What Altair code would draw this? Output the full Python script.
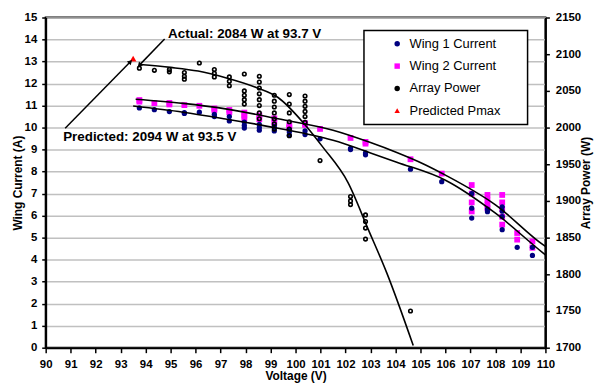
import altair as alt
import pandas as pd

# ---------------- data ----------------
# Wing 1 current (A)
w1_v = [93.75, 94.35, 94.95, 95.55, 95.55, 96.15, 96.75, 96.75, 97.35, 97.35,
        97.95, 97.95, 97.95, 98.55, 98.55, 98.55, 99.15, 99.15, 99.75, 99.75,
        99.75, 100.38, 100.38, 100.98, 102.2, 102.2, 102.8, 102.8, 104.6, 105.85,
        107.05, 107.05, 107.05, 107.68, 107.68, 108.27, 108.27, 108.27, 108.27, 108.87,
        109.48, 109.48]
w1_i = [10.89, 10.81, 10.73, 10.64, 10.68, 10.70, 10.50, 10.60, 10.30, 10.50,
        9.98, 10.10, 10.25, 9.88, 10.00, 10.15, 9.85, 10.05, 9.65, 9.80,
        9.92, 9.68, 9.85, 9.49, 9.00, 9.05, 8.76, 8.85, 8.11, 7.54,
        5.89, 6.34, 7.00, 6.18, 6.30, 5.36, 5.96, 6.20, 6.40, 4.56,
        4.19, 4.56]

# Wing 2 current (A)
w2_v = [93.75, 93.75, 94.35, 94.95, 94.95, 95.55, 96.15, 96.75, 96.75, 97.35,
        97.35, 97.95, 97.95, 97.95, 98.55, 98.55, 99.15, 99.15, 99.75, 99.75,
        100.38, 100.38, 100.98, 102.2, 102.8, 102.8, 104.6, 105.85, 107.05, 107.05,
        107.05, 107.05, 107.68, 107.68, 107.68, 107.68, 108.27, 108.27, 108.27, 108.27,
        108.27, 108.87, 108.87, 109.48, 109.48]
w2_i = [11.18, 11.25, 11.11, 11.05, 11.12, 11.02, 10.99, 10.80, 10.87, 10.70,
        10.80, 10.42, 10.55, 10.68, 10.38, 10.55, 10.22, 10.42, 10.00, 10.10,
        10.12, 10.20, 9.94, 9.53, 9.27, 9.35, 8.56, 7.91, 6.19, 6.60,
        7.00, 7.39, 6.34, 6.50, 6.70, 6.94, 5.59, 5.95, 6.30, 6.60,
        6.94, 4.91, 5.21, 4.54, 4.83]

# Array power (W)
p_v = [93.75, 94.35, 94.95, 94.95, 95.55, 95.55, 95.55, 96.15, 96.75, 96.75,
       96.75, 97.35, 97.35, 97.35, 97.95, 97.95, 97.95, 97.95, 97.95,
       98.55, 98.55, 98.55, 98.55, 98.55, 98.55, 98.55, 98.55,
       99.15, 99.15, 99.15, 99.15, 99.15, 99.15, 99.15,
       99.75, 99.75, 99.75, 99.75, 99.75, 99.75,
       100.38, 100.38, 100.38, 100.38, 100.38, 100.38,
       100.98, 102.2, 102.2, 102.2, 102.8, 102.8, 102.8, 102.8, 104.6]
p_w = [2081, 2078, 2079, 2076, 2075, 2070, 2066, 2088, 2079, 2074,
       2069, 2069, 2063, 2057, 2073, 2050, 2044, 2038, 2032,
       2070, 2062, 2054, 2046, 2038, 2030, 2020, 2012,
       2044, 2036, 2028, 2020, 2012, 2005, 1998,
       2045, 2032, 2020, 2008, 1998, 1989,
       2043, 2036, 2029, 2022, 2015, 2007,
       1955, 1906, 1900, 1895, 1881, 1872, 1863, 1848, 1750]

# Fitted curves
c1_v = [93.5, 95.5, 97.2, 99.3, 101.5, 103.0, 104.05, 106.0, 108.0, 109.9, 110.0]
c1_i = [10.98, 10.70, 10.39, 9.97, 9.42, 8.85, 8.43, 7.61, 6.11, 4.31, 4.22]
c2_v = [93.6, 95.5, 97.2, 99.3, 101.5, 103.0, 104.05, 105.1, 106.0, 108.0, 109.9, 110.0]
c2_i = [11.29, 11.10, 10.85, 10.40, 9.88, 9.32, 8.87, 8.36, 7.84, 6.49, 4.68, 4.60]
cp_v = [93.77, 95.0, 96.1, 97.2, 98.4, 99.3, 100.3, 101.1, 102.1, 102.9, 103.65, 104.71]
cp_w = [2086, 2082, 2077, 2068, 2055, 2041, 2007, 1973, 1925, 1862, 1802, 1703]

# Predicted maximum
pmax_v = [93.5]
pmax_w = [2094]

series_names = ["Wing 1 Current", "Wing 2 Current", "Array Power", "Predicted Pmax"]
series_colors = ["#000080", "#FF00FF", "#000000", "#FF0000"]
series_shapes = ["circle", "square", "circle", "triangle-up"]

# Annotations (text, arrow start, arrow end, in V / W)
ann_text = ["Actual: 2084 W at 93.7 V", "Predicted: 2094 W at 93.5 V"]
ann_tx = [94.9, 90.7]
ann_ty = [2127, 1987]
arr_x1 = [94.76, 90.78]
arr_y1 = [2120.6, 1999]
arr_x2 = [93.77, 93.37]
arr_y2 = [2085.8, 2089]
arr_angle = [224, 45]

# ---------------- chart ----------------
FONT = "Liberation Sans"

df_w1 = pd.DataFrame({"V": w1_v, "I": w1_i, "series": "Wing 1 Current"})
df_w2 = pd.DataFrame({"V": w2_v, "I": w2_i, "series": "Wing 2 Current"})
df_p = pd.DataFrame({"V": p_v, "P": p_w, "series": "Array Power"})
df_pmax = pd.DataFrame({"V": pmax_v, "P": pmax_w, "series": "Predicted Pmax"})
df_c = pd.concat([
    pd.DataFrame({"V": c1_v, "I": c1_i, "curve": "w1"}),
    pd.DataFrame({"V": c2_v, "I": c2_i, "curve": "w2"}),
])
df_cp = pd.DataFrame({"V": cp_v, "P": cp_w})
df_ann = pd.DataFrame({"text": ann_text, "tx": ann_tx, "ty": ann_ty,
                       "x1": arr_x1, "y1": arr_y1, "x2": arr_x2, "y2": arr_y2,
                       "angle": arr_angle})

xscale = alt.Scale(domain=[90, 110], nice=False, zero=False)
xaxis = alt.Axis(values=list(range(90, 111)), title="Voltage (V)", grid=False,
                 labelOverlap=False, labelFlush=False, format="d",
                 labelFont=FONT, labelFontSize=11.5, labelFontWeight="bold",
                 titleFont=FONT, titleFontSize=12, titleFontWeight="bold",
                 labelColor="black", titleColor="black",
                 domainColor="black", domainWidth=2, tickColor="black",
                 tickWidth=1.5, tickSize=5, labelPadding=6, titlePadding=1)

iscale = alt.Scale(domain=[0, 15], nice=False, zero=True)
iaxis = alt.Axis(values=list(range(0, 16)), title="Wing Current (A)", grid=True,
                 gridColor="#c0c0c0", gridWidth=1.5, labelOverlap=False, labelFlush=False,
                 format="d",
                 labelFont=FONT, labelFontSize=11.5, labelFontWeight="bold",
                 titleFont=FONT, titleFontSize=12, titleFontWeight="bold",
                 labelColor="black", titleColor="black",
                 domainColor="black", domainWidth=2, tickColor="black",
                 tickWidth=1.5, tickSize=4, labelPadding=5, titlePadding=0)

pscale = alt.Scale(domain=[1700, 2150], nice=False, zero=False)
paxis = alt.Axis(orient="right", values=list(range(1700, 2151, 50)), title="Array Power (W)",
                 grid=False, titleAngle=270, titleBaseline="top", format="d",
                 labelOverlap=False, labelFlush=False,
                 labelFont=FONT, labelFontSize=11.5, labelFontWeight="bold",
                 titleFont=FONT, titleFontSize=12, titleFontWeight="bold",
                 labelColor="black", titleColor="black",
                 domainColor="black", domainWidth=2, tickColor="black",
                 tickWidth=1.5, tickSize=4, labelPadding=6, titlePadding=0)

legend = alt.Legend(title=None, orient="none", legendX=321, legendY=13,
                    padding=7, symbolOffset=20, rowPadding=8.5, labelOffset=6,
                    labelFont=FONT, labelFontSize=13, labelColor="black",
                    strokeColor="black", fillColor="white", symbolSize=30,
                    symbolStrokeWidth=0,
                    labelExpr="datum.label + '" + "\u2800" * 2 + "'")

color_enc = alt.Color("series:N", scale=alt.Scale(domain=series_names, range=series_colors),
                      legend=legend)
shape_enc = alt.Shape("series:N", scale=alt.Scale(domain=series_names, range=series_shapes),
                      legend=legend)

X = alt.X("V:Q", scale=xscale, axis=xaxis)
YI = alt.Y("I:Q", scale=iscale, axis=iaxis)
YP = alt.Y("P:Q", scale=pscale, axis=paxis)

curves = alt.Chart(df_c).mark_line(color="black", strokeWidth=1.6, interpolate="monotone").encode(
    x=X, y=YI, detail="curve:N")
w1 = alt.Chart(df_w1).mark_point(filled=True, size=28, opacity=1).encode(
    x=X, y=YI, color=color_enc, shape=shape_enc)
w2 = alt.Chart(df_w2).mark_point(filled=True, size=34, opacity=1).encode(
    x=X, y=YI, color=color_enc, shape=shape_enc)
current_layer = alt.layer(w2, w1, curves)

pcurve = alt.Chart(df_cp).mark_line(color="black", strokeWidth=1.6, interpolate="monotone").encode(
    x=X, y=YP)
ppts = alt.Chart(df_p).mark_point(filled=False, size=13, strokeWidth=1.6, opacity=1).encode(
    x=X, y=YP, color=color_enc, shape=shape_enc)
pmax = alt.Chart(df_pmax).mark_point(filled=True, size=45, opacity=1).encode(
    x=X, y=YP, color=color_enc, shape=shape_enc)
arrows = alt.Chart(df_ann).mark_rule(color="black", strokeWidth=1.5).encode(
    x=alt.X("x1:Q", scale=xscale, axis=xaxis), y=alt.Y("y1:Q", scale=pscale, axis=paxis),
    x2="x2:Q", y2="y2:Q")
heads = alt.Chart(df_ann).mark_point(shape="triangle", filled=True, color="black", size=30,
                                     opacity=1).encode(
    x=alt.X("x2:Q", scale=xscale, axis=xaxis), y=alt.Y("y2:Q", scale=pscale, axis=paxis),
    angle=alt.Angle("angle:Q", scale=None))
texts = alt.Chart(df_ann).mark_text(align="left", baseline="middle", font=FONT, fontSize=13.5,
                                    fontWeight="bold", color="black").encode(
    x=alt.X("tx:Q", scale=xscale, axis=xaxis), y=alt.Y("ty:Q", scale=pscale, axis=paxis),
    text="text:N")
power_layer = alt.layer(pcurve, ppts, pmax, arrows, heads, texts)

chart = alt.layer(current_layer, power_layer).resolve_scale(y="independent").properties(
    width=504, height=333,
    padding={"left": 38, "top": 8, "right": 50, "bottom": 34},
    autosize=alt.AutoSizeParams(type="none"),
).configure_view(stroke="black", strokeWidth=2).configure_legend(strokeWidth=1.5)

chart.save("out.html", embed_options={"renderer": "svg", "actions": False})
